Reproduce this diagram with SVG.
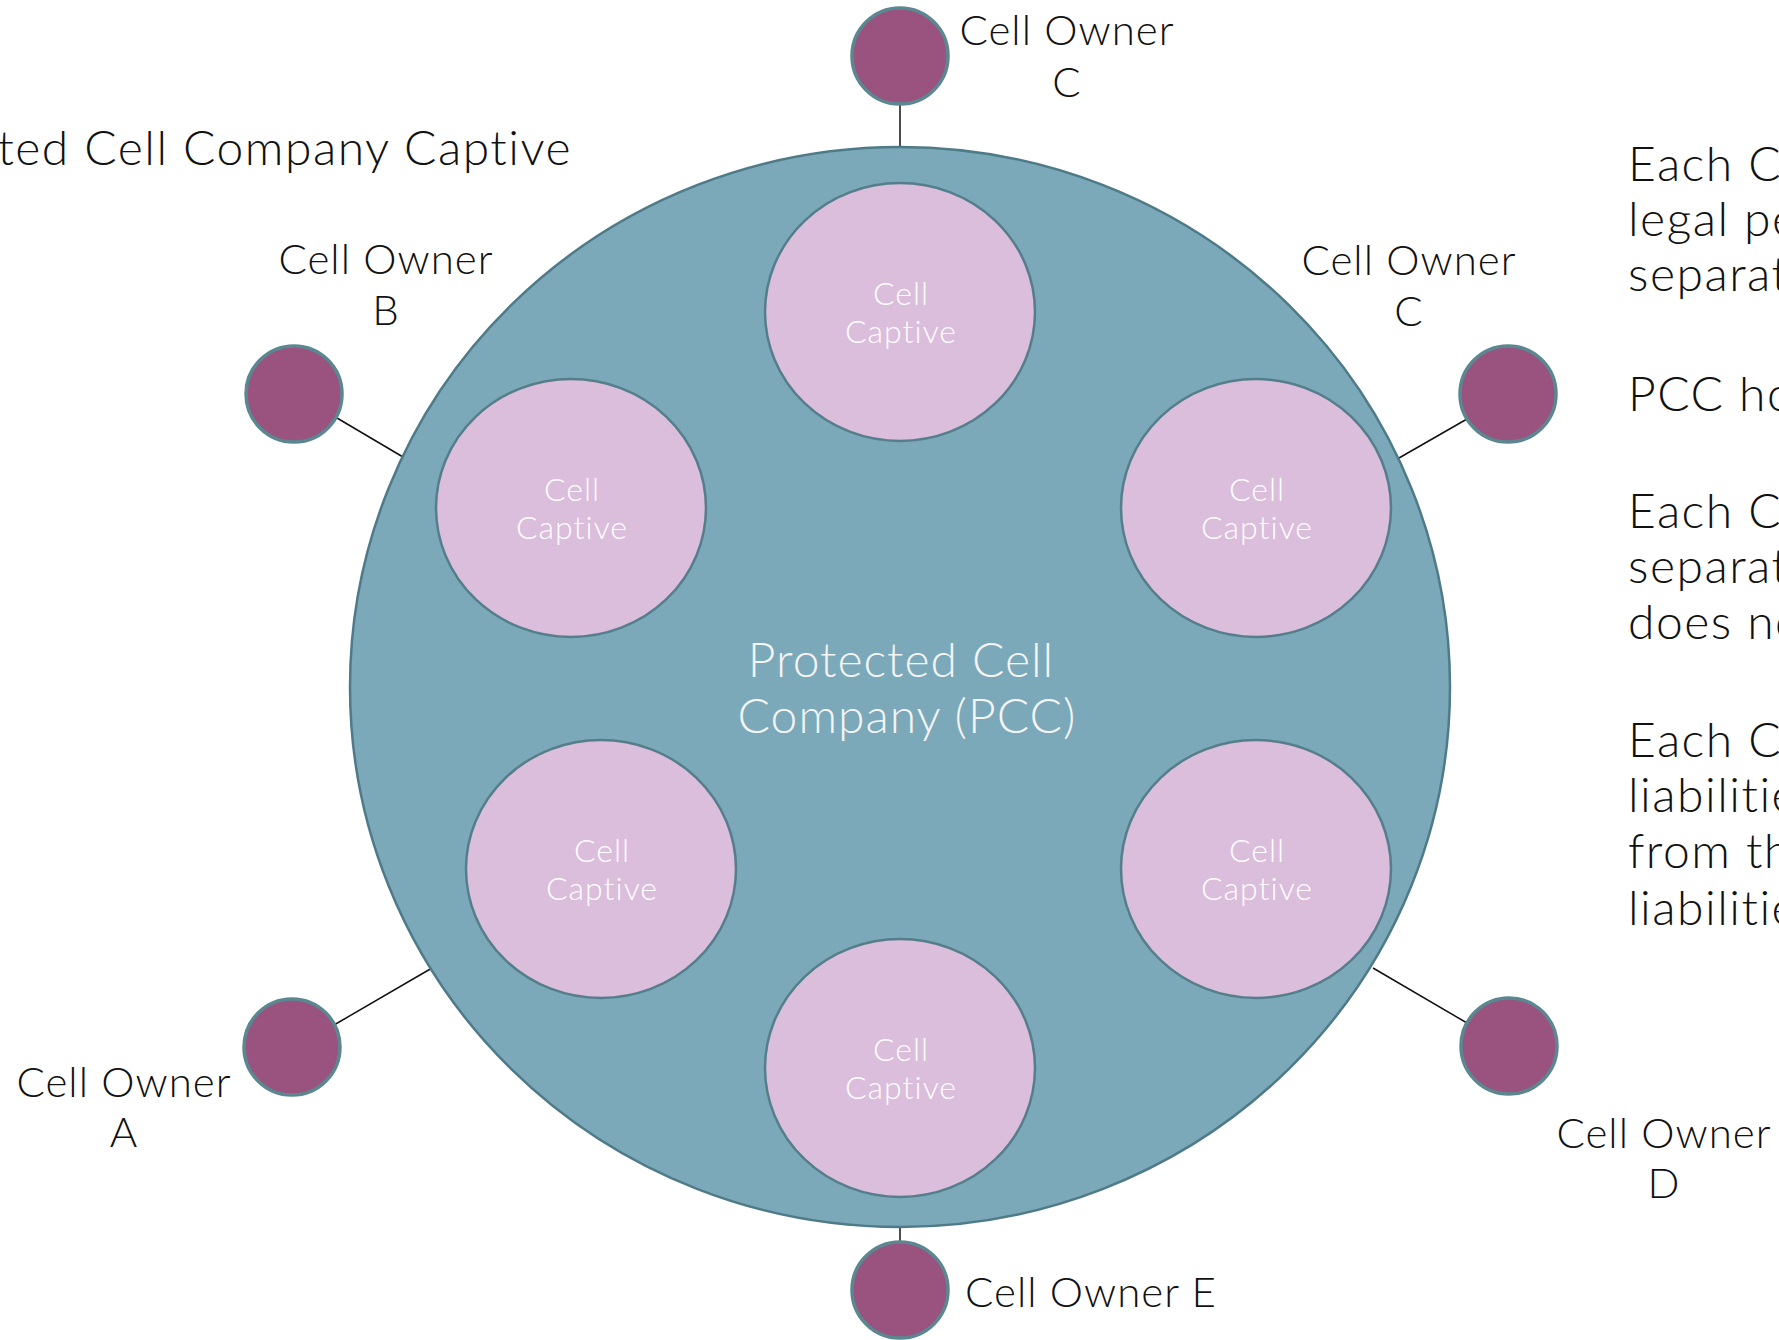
<svg xmlns="http://www.w3.org/2000/svg" width="1779" height="1340" viewBox="0 0 1779 1340">
<style>
.txt{font-family:Lato,"Liberation Sans",sans-serif;font-weight:300;fill:#111}
.lbl{font-size:42px;letter-spacing:1px;text-anchor:middle}
.side{font-size:48px;letter-spacing:1.5px}
.cell{fill:#dbbddc;stroke:#557e8b;stroke-width:2.5}
.cellt{font-family:Lato,"Liberation Sans",sans-serif;font-weight:300;font-size:32px;letter-spacing:1px;fill:#ffffff;text-anchor:middle}
.owner{fill:#9a527e;stroke:#5b8791;stroke-width:3.5}
.con{stroke:#111;stroke-width:1.5;fill:none}
</style>
<rect width="1779" height="1340" fill="#ffffff"/>
<g id="connectors">
<line class="con" x1="900" y1="104" x2="900" y2="148"/>
<line class="con" x1="900" y1="1227" x2="900" y2="1242"/>
<line class="con" x1="337" y1="418" x2="403" y2="457"/>
<line class="con" x1="1467" y1="419" x2="1399" y2="458"/>
<line class="con" x1="334" y1="1025" x2="432" y2="968"/>
<line class="con" x1="1467" y1="1023" x2="1373" y2="968"/>
</g>
<g id="pcc">
<ellipse cx="900" cy="687" rx="550" ry="540" fill="#7ba9b9" stroke="#4f7a88" stroke-width="2.5"/>
<text class="txt" style="fill:#f4f4f4;font-size:48px;letter-spacing:1px;text-anchor:middle"><tspan x="901" y="677">Protected Cell</tspan><tspan x="907" y="733">Company (PCC)</tspan></text>
</g>
<g id="cell-top"><ellipse class="cell" cx="900" cy="312" rx="135" ry="129"/><text class="cellt"><tspan x="901" y="305">Cell</tspan><tspan x="901" y="343">Captive</tspan></text></g>
<g id="cell-upper-left"><ellipse class="cell" cx="571" cy="508" rx="135" ry="129"/><text class="cellt"><tspan x="572" y="501">Cell</tspan><tspan x="572" y="539">Captive</tspan></text></g>
<g id="cell-upper-right"><ellipse class="cell" cx="1256" cy="508" rx="135" ry="129"/><text class="cellt"><tspan x="1257" y="501">Cell</tspan><tspan x="1257" y="539">Captive</tspan></text></g>
<g id="cell-lower-left"><ellipse class="cell" cx="601" cy="869" rx="135" ry="129"/><text class="cellt"><tspan x="602" y="862">Cell</tspan><tspan x="602" y="900">Captive</tspan></text></g>
<g id="cell-lower-right"><ellipse class="cell" cx="1256" cy="869" rx="135" ry="129"/><text class="cellt"><tspan x="1257" y="862">Cell</tspan><tspan x="1257" y="900">Captive</tspan></text></g>
<g id="cell-bottom"><ellipse class="cell" cx="900" cy="1068" rx="135" ry="129"/><text class="cellt"><tspan x="901" y="1061">Cell</tspan><tspan x="901" y="1099">Captive</tspan></text></g>
<g id="owner-c-top"><circle class="owner" cx="900" cy="56" r="48"/><text class="txt lbl"><tspan x="1067" y="45">Cell Owner</tspan><tspan x="1067" y="97">C</tspan></text></g>
<g id="owner-c-right"><circle class="owner" cx="1508" cy="394" r="48"/><text class="txt lbl"><tspan x="1409" y="275">Cell Owner</tspan><tspan x="1409" y="326">C</tspan></text></g>
<g id="owner-b"><circle class="owner" cx="294" cy="394" r="48"/><text class="txt lbl"><tspan x="386" y="274">Cell Owner</tspan><tspan x="386" y="325">B</tspan></text></g>
<g id="owner-a"><circle class="owner" cx="292" cy="1047" r="48"/><text class="txt lbl"><tspan x="124" y="1097">Cell Owner</tspan><tspan x="124" y="1147">A</tspan></text></g>
<g id="owner-d"><circle class="owner" cx="1509" cy="1046" r="48"/><text class="txt lbl"><tspan x="1664" y="1148">Cell Owner</tspan><tspan x="1664" y="1198">D</tspan></text></g>
<g id="owner-e"><circle class="owner" cx="900" cy="1290" r="48"/><text class="txt" style="font-size:42px;letter-spacing:1px" x="965" y="1307">Cell Owner E</text></g>
<g id="title"><text class="txt side" x="572" y="165" text-anchor="end">ted Cell Company Captive</text></g>
<g id="notes">
<text class="txt side"><tspan x="1628" y="181">Each C</tspan><tspan x="1628" y="236">legal pe</tspan><tspan x="1628" y="291">separat</tspan><tspan x="1628" y="411">PCC ho</tspan><tspan x="1628" y="528">Each C</tspan><tspan x="1628" y="583">separat</tspan><tspan x="1628" y="639">does no</tspan><tspan x="1628" y="757">Each C</tspan><tspan x="1628" y="812">liabilitie</tspan><tspan x="1628" y="868">from th</tspan><tspan x="1628" y="925">liabilitie</tspan></text>
</g>
</svg>
